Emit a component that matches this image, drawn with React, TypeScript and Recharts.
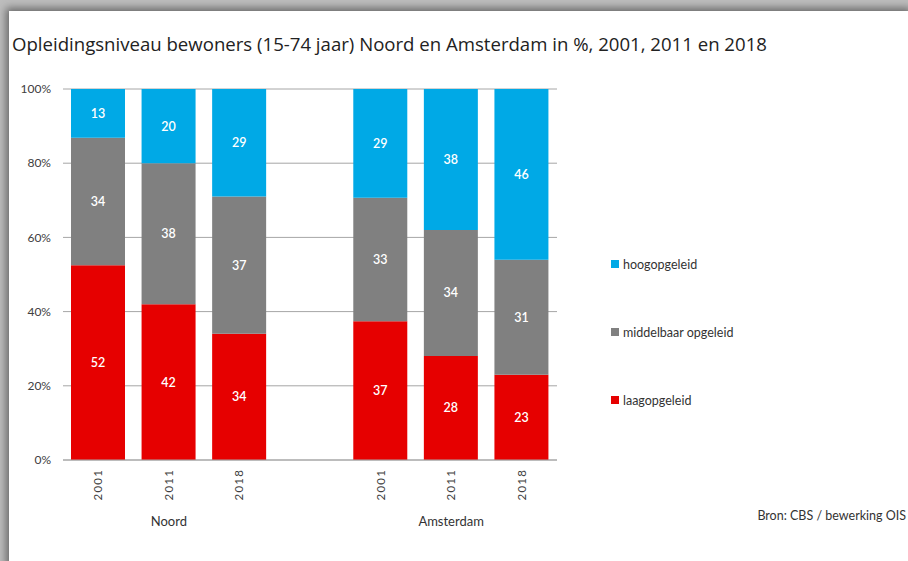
import React from 'react';
import { BarChart, Bar, XAxis, YAxis, CartesianGrid, LabelList } from 'recharts';

const categories = ['N2001', 'N2011', 'N2018', 'gap', 'A2001', 'A2011', 'A2018'];
const years = ['2001', '2011', '2018', '', '2001', '2011', '2018'];
const groups = ['', 'Noord', '', '', '', 'Amsterdam', ''];
const laag = [52, 42, 34, null, 37, 28, 23];
const middel = [34, 38, 37, null, 33, 34, 31];
const hoog = [13, 20, 29, null, 29, 38, 46];
const yTicks = [0, 0.2, 0.4, 0.6, 0.8, 1];

const COLORS: Record<string, string> = { hoog: '#00a9e6', middel: '#808080', laag: '#e60000' };
const FONT = 'Lato, "Open Sans", sans-serif';

const data = categories.map((c, i) => ({
  key: c,
  year: years[i],
  group: groups[i],
  laag: laag[i],
  middel: middel[i],
  hoog: hoog[i],
}));

const legendItems = [
  { key: 'hoog', label: 'hoogopgeleid' },
  { key: 'middel', label: 'middelbaar opgeleid' },
  { key: 'laag', label: 'laagopgeleid' },
];

const YearTick = (props: any) => {
  const { x, y, payload } = props;
  const label = years[categories.indexOf(payload.value)];
  return (
    <text
      x={0}
      y={0}
      transform={`translate(${x + 4},${y + 1}) rotate(-90)`}
      textAnchor="end"
      fontSize={11.5}
      fill="#404040"
      fontFamily={FONT}
      letterSpacing={1.2}
    >
      {label}
    </text>
  );
};

const GroupTick = (props: any) => {
  const { x, y, payload } = props;
  const label = groups[categories.indexOf(payload.value)];
  return (
    <text x={x} y={y + 11} textAnchor="middle" fontSize={13} fill="#333" fontFamily={FONT}>
      {label}
    </text>
  );
};

const labelFmt = (v: any) => (v == null ? '' : v);

export default function App() {
  return (
    <div style={{ position: 'fixed', left: 0, top: 0, width: 908, height: 561, background: '#bdbdbd', overflow: 'hidden' }}>
      <div
        style={{
          position: 'absolute',
          left: 9,
          top: 11,
          width: 905,
          height: 560,
          background: '#fff',
          boxShadow: '-3px -3px 8px rgba(0,0,0,0.45)',
        }}
      />
      <div
        style={{
          position: 'absolute',
          left: 12,
          top: 31,
          fontFamily: '"Open Sans", sans-serif',
          fontSize: 18.6,
          color: '#222',
          whiteSpace: 'nowrap',
        }}
      >
        Opleidingsniveau bewoners (15-74 jaar) Noord en Amsterdam in %, 2001, 2011 en 2018
      </div>
      <div
        style={{
          position: 'absolute',
          right: 2,
          top: 508,
          fontFamily: FONT,
          fontSize: 12.5,
          color: '#333',
        }}
      >
        Bron: CBS / bewerking OIS
      </div>
      <div style={{ position: 'absolute', left: 611, top: 254, fontFamily: FONT, fontSize: 12.5, color: '#333' }}>
        {legendItems.map((it) => (
          <div key={it.key} style={{ display: 'flex', alignItems: 'center', height: 20, marginBottom: 48 }}>
            <span style={{ width: 8, height: 8, background: COLORS[it.key], marginRight: 4, display: 'inline-block' }} />
            <span>{it.label}</span>
          </div>
        ))}
      </div>
      <div style={{ position: 'absolute', left: 0, top: 0 }}>
        <BarChart
          width={908}
          height={561}
          data={data}
          stackOffset="expand"
          margin={{ top: 89, right: 351, left: 0, bottom: 36 }}
        >
          <CartesianGrid vertical={false} stroke="#a6a6a6" />
          <XAxis
            dataKey="key"
            tick={<YearTick />}
            tickLine={false}
            axisLine={{ stroke: '#a6a6a6' }}
            height={47}
            interval={0}
          />
          <XAxis
            dataKey="key"
            xAxisId="group"
            tick={<GroupTick />}
            tickLine={false}
            axisLine={false}
            height={18}
            interval={0}
          />
          <YAxis
            width={63}
            domain={[0, 1]}
            ticks={yTicks}
            tickFormatter={(v: number) => `${Math.round(v * 100)}%`}
            tick={{ fontSize: 12, fill: '#404040', fontFamily: FONT }}
            tickLine={false}
            axisLine={false}
            tickMargin={6}
          />
          <Bar dataKey="laag" stackId="s" fill={COLORS.laag} barSize={54} isAnimationActive={false}>
            <LabelList dataKey="laag" position="center" fill="#fff" fontSize={12.5} fontWeight={600} fontFamily={FONT} formatter={labelFmt} />
          </Bar>
          <Bar dataKey="middel" stackId="s" fill={COLORS.middel} barSize={54} isAnimationActive={false}>
            <LabelList dataKey="middel" position="center" fill="#fff" fontSize={12.5} fontWeight={600} fontFamily={FONT} formatter={labelFmt} />
          </Bar>
          <Bar dataKey="hoog" stackId="s" fill={COLORS.hoog} barSize={54} isAnimationActive={false}>
            <LabelList dataKey="hoog" position="center" fill="#fff" fontSize={12.5} fontWeight={600} fontFamily={FONT} formatter={labelFmt} />
          </Bar>
        </BarChart>
      </div>
    </div>
  );
}
